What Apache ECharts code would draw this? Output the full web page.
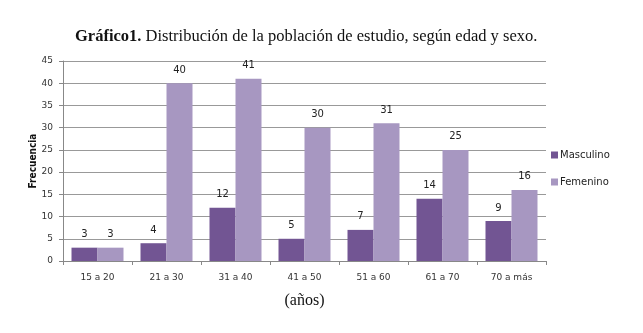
<!DOCTYPE html>
<html>
<head>
<meta charset="utf-8">
<script src="https://cdn.jsdelivr.net/npm/echarts@6/dist/echarts.min.js"></script>
<style>
  html, body { margin: 0; padding: 0; background: #fff; }
  #chart { width: 643px; height: 333px; }
</style>
</head>
<body>
<div id="chart"></div>
<script>
// data
const ageGroups = ['15 a 20', '21 a 30', '31 a 40', '41 a 50', '51 a 60', '61 a 70', '70 a más'];
const masculino = [3, 4, 12, 5, 7, 14, 9];
const femenino = [3, 40, 41, 30, 31, 25, 16];
const yTicks = { min: 0, max: 45, step: 5 };

const chart = echarts.init(document.getElementById('chart'));

const labelStyle = {
  show: true,
  position: 'top',
  distance: 8,
  color: '#222',
  fontFamily: 'DejaVu Sans',
  fontSize: 10
};

chart.setOption({
  animation: false,
  title: {
    text: '{b|Gráfico1.} Distribución de la población de estudio, según edad y sexo.',
    left: 70,
    top: 23,
    textStyle: {
      rich: {
        b: { fontFamily: 'Liberation Serif', fontSize: 16.5, fontWeight: 'bold', color: '#111' }
      },
      fontFamily: 'Liberation Serif',
      fontSize: 16.5,
      fontWeight: 'normal',
      color: '#111'
    }
  },
  legend: {
    orient: 'vertical',
    left: 546,
    top: 145,
    itemWidth: 7,
    itemHeight: 7,
    itemGap: 17,
    icon: 'rect',
    textStyle: { fontFamily: 'DejaVu Sans', fontSize: 10, color: '#222', padding: [0, 0, 0, -3] },
    data: ['Masculino', 'Femenino']
  },
  grid: { left: 63, right: 97, top: 61, bottom: 72 },
  xAxis: {
    type: 'category',
    data: ageGroups,
    axisLine: { lineStyle: { color: '#888' } },
    axisTick: { show: true, length: 4, lineStyle: { color: '#888' } },
    axisLabel: { fontFamily: 'DejaVu Sans', fontSize: 9, color: '#333', margin: 12 },
    name: '(años)',
    nameLocation: 'middle',
    nameGap: 32,
    nameTextStyle: { fontFamily: 'Liberation Serif', fontSize: 16, color: '#111' }
  },
  yAxis: {
    type: 'value',
    min: yTicks.min,
    max: yTicks.max,
    interval: yTicks.step,
    axisLine: { show: true, lineStyle: { color: '#888' } },
    axisTick: { show: true, length: 4, lineStyle: { color: '#888' } },
    splitLine: { lineStyle: { color: '#999', width: 1 } },
    axisLabel: { fontFamily: 'DejaVu Sans', fontSize: 9, color: '#333', margin: 10 },
    name: 'Frecuencia',
    nameLocation: 'middle',
    nameGap: 25,
    nameMoveOverlap: false,
    nameTextStyle: { fontFamily: 'DejaVu Sans Condensed', fontSize: 10, fontWeight: 'bold', color: '#111' }
  },
  series: [
    {
      name: 'Masculino',
      type: 'bar',
      data: masculino,
      barWidth: 26,
      barGap: '0%',
      itemStyle: { color: '#725593' },
      label: labelStyle
    },
    {
      name: 'Femenino',
      type: 'bar',
      data: femenino,
      barWidth: 26,
      itemStyle: { color: '#a797c1' },
      label: labelStyle
    }
  ]
});
</script>
</body>
</html>
